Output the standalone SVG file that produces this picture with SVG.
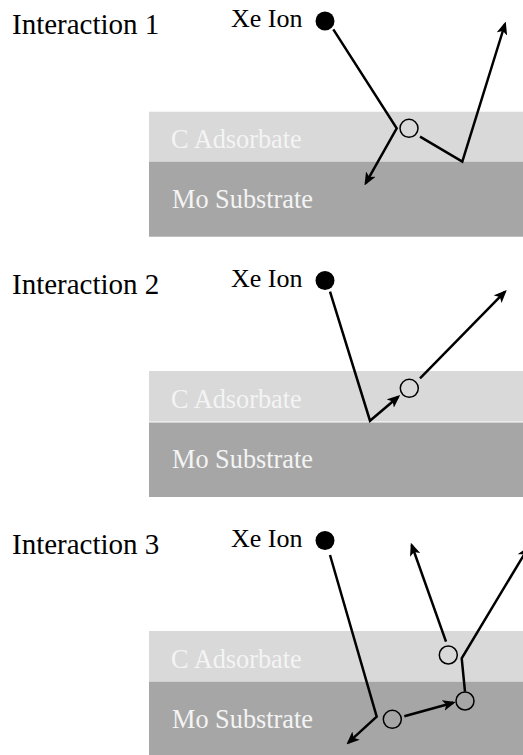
<svg xmlns="http://www.w3.org/2000/svg" width="523" height="755" viewBox="0 0 523 755">
<style>
.title{font-family:"Liberation Serif","Times New Roman",serif;font-size:29px;fill:#000}
.ion{font-family:"Liberation Serif","Times New Roman",serif;font-size:26px;fill:#000}
.layer{font-family:"Liberation Serif","Times New Roman",serif;font-size:26.3px;fill:#f4f4f4}
.ads{fill:#d9d9d9}
.sub{fill:#a6a6a6}
.xe{fill:#000}
.atom{fill:none;stroke:#000;stroke-width:1.5}
.path{fill:none;stroke:#000;stroke-width:2.5;stroke-linejoin:miter}
</style>
<defs>
<marker id="ah" viewBox="0 0 13 11" markerWidth="13" markerHeight="11" markerUnits="userSpaceOnUse" refX="10.5" refY="5.5" orient="auto">
<path d="M0,0 L13,5.5 L0,11 L3.2,5.5 z" fill="#000"/>
</marker>
</defs>
<rect width="523" height="755" fill="#fff"/>

<g id="panel1">
<g id="p1-label"><text class="title" x="12" y="34">Interaction 1</text></g>
<g id="p1-adsorbate"><rect class="ads" x="149" y="111.7" width="374" height="50"/><text class="layer" x="171" y="148">C Adsorbate</text></g>
<g id="p1-substrate"><rect class="sub" x="149" y="161.7" width="374" height="75"/><text class="layer" x="172" y="208">Mo Substrate</text></g>
<g id="p1-ion"><text class="ion" x="231" y="27">Xe Ion</text><circle class="xe" cx="325" cy="21" r="9.5"/></g>
<g id="p1-atom1"><circle class="atom" cx="409" cy="128.3" r="9"/></g>
</g>

<g id="panel2">
<g id="p2-label"><text class="title" x="12" y="293.5">Interaction 2</text></g>
<g id="p2-adsorbate"><rect class="ads" x="149" y="371" width="374" height="50.5"/><text class="layer" x="171" y="407.5">C Adsorbate</text></g>
<g id="p2-substrate"><rect class="sub" x="149" y="422.5" width="374" height="74.5"/><text class="layer" x="172" y="467.5">Mo Substrate</text></g>
<g id="p2-ion"><text class="ion" x="231" y="286.5">Xe Ion</text><circle class="xe" cx="325" cy="280.5" r="9.5"/></g>
<g id="p2-atom1"><circle class="atom" cx="409.3" cy="388.3" r="9"/></g>
</g>

<g id="panel3">
<g id="p3-label"><text class="title" x="12" y="553.5">Interaction 3</text></g>
<g id="p3-adsorbate"><rect class="ads" x="149" y="631" width="374" height="50.7"/><text class="layer" x="171" y="667.5">C Adsorbate</text></g>
<g id="p3-substrate"><rect class="sub" x="149" y="681.7" width="374" height="73.3"/><text class="layer" x="172" y="727.5">Mo Substrate</text></g>
<g id="p3-ion"><text class="ion" x="231" y="546.5">Xe Ion</text><circle class="xe" cx="325" cy="540.5" r="9.5"/></g>
<g id="p3-atom1"><circle class="atom" cx="392.3" cy="719.3" r="9"/></g>
<g id="p3-atom2"><circle class="atom" cx="465" cy="701" r="9"/></g>
<g id="p3-atom3"><circle class="atom" cx="448.3" cy="655" r="9"/></g>
</g>

<g id="connectors">
<polyline class="path" points="333.3,29.3 396.7,128.3 365.7,183.3" marker-end="url(#ah)"/>
<polyline class="path" points="420,136.7 462.3,161.7 505,24" marker-end="url(#ah)"/>
<polyline class="path" points="330,291.7 370,420.7 398.3,396.7" marker-end="url(#ah)"/>
<line class="path" x1="420" y1="378.3" x2="505" y2="291.7" marker-end="url(#ah)"/>
<polyline class="path" points="330,555 376.7,716.7 348.3,742.7" marker-end="url(#ah)"/>
<line class="path" x1="404.3" y1="716.3" x2="453.3" y2="702.7" marker-end="url(#ah)"/>
<polyline class="path" points="465,691.7 461.7,658.3 528,548" marker-end="url(#ah)"/>
<line class="path" x1="446" y1="641.7" x2="411.7" y2="545" marker-end="url(#ah)"/>
</g>
</svg>
